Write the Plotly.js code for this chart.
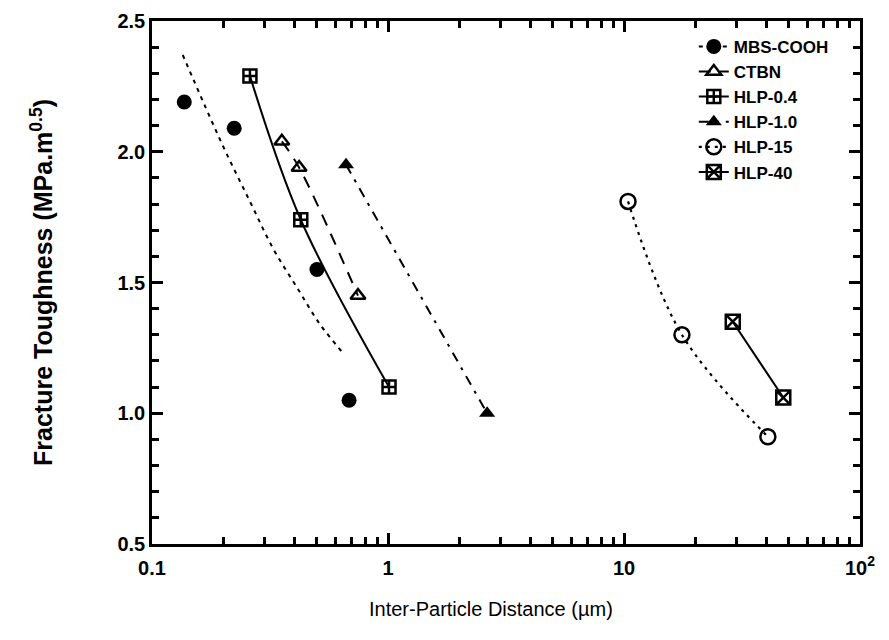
<!DOCTYPE html>
<html>
<head>
<meta charset="utf-8">
<script src="https://cdn.plot.ly/plotly-3.0.1.min.js"></script>
<style>html,body{margin:0;padding:0;background:#fff;}#chart{width:889px;height:640px;}</style>
</head>
<body>
<div id="chart"></div>
<script>
// Data
const mbsX = [0.137, 0.223, 0.50, 0.684];
const mbsY = [2.19, 2.09, 1.55, 1.05];
const mbsFitX = [0.135, 0.198, 0.260, 0.326, 0.412, 0.515, 0.645];
const mbsFitY = [2.37, 2.03, 1.81, 1.63, 1.48, 1.34, 1.23];
const ctbnX = [0.355, 0.420, 0.746];
const ctbnY = [2.04, 1.94, 1.45];
const hlp04X = [0.260, 0.427, 1.01];
const hlp04Y = [2.29, 1.74, 1.10];
const hlp10X = [0.664, 2.63];
const hlp10Y = [1.95, 1.00];
const hlp15X = [10.4, 17.6, 40.7];
const hlp15Y = [1.81, 1.30, 0.91];
const hlp40X = [28.9, 47.3];
const hlp40Y = [1.35, 1.06];
const names = ["MBS-COOH", "CTBN", "HLP-0.4", "HLP-1.0", "HLP-15", "HLP-40"];
const xTickVals = [0.1, 1, 10, 100];
const xTickText = ["0.1", "1", "10", "10<sup>2</sup>"];
const yTickVals = [0.5, 1.0, 1.5, 2.0, 2.5];
const xTitle = "Inter-Particle Distance (µm)";
const yTitle = "Fracture Toughness (MPa.m<sup>0.5</sup>)";

const K = "#000";
const FONT = "Arial, 'Liberation Sans', sans-serif";
const traces = [
  {x: [null], y: [null], mode: "lines+markers", name: names[0],
   line: {color: K, width: 2, dash: "4px,4px"}, marker: {symbol: "circle", size: 15, color: K}},
  {x: mbsFitX, y: mbsFitY, mode: "lines", showlegend: false,
   line: {color: K, width: 2, dash: "4px,5px", shape: "spline"}},
  {x: mbsX, y: mbsY, mode: "markers", showlegend: false,
   marker: {symbol: "circle", size: 15, color: K}},
  {x: ctbnX, y: ctbnY, mode: "lines+markers", name: names[1],
   line: {color: K, width: 2, dash: "12px,9px", shape: "spline"},
   marker: {symbol: "triangle-up-open", size: 13, color: K, line: {width: 2.5, color: K}}},
  {x: hlp04X, y: hlp04Y, mode: "lines+markers", name: names[2],
   line: {color: K, width: 2, shape: "spline"},
   marker: {symbol: "square-cross-open", size: 13, color: K, line: {width: 2.5, color: K}}},
  {x: hlp10X, y: hlp10Y, mode: "lines+markers", name: names[3],
   line: {color: K, width: 2, dash: "10px,7px,3px,7px"},
   marker: {symbol: "triangle-up", size: 14, color: K}},
  {x: hlp15X, y: hlp15Y, mode: "lines+markers", name: names[4],
   line: {color: K, width: 2.2, dash: "3px,5px", shape: "spline"},
   marker: {symbol: "circle-open", size: 15, color: K, line: {width: 2.5, color: K}}},
  {x: hlp40X, y: hlp40Y, mode: "lines+markers", name: names[5],
   line: {color: K, width: 2},
   marker: {symbol: "square-x-open", size: 14, color: K, line: {width: 2.5, color: K}}}
];

// minor tick positions on the log axis (2..9 in each decade)
const xMinor = [];
[0.1, 1, 10].forEach(d => { for (let k = 2; k <= 9; k++) xMinor.push(+(d * k).toPrecision(3)); });

const layout = {
  width: 889, height: 640,
  margin: {l: 152, r: 29, t: 21, b: 96},
  paper_bgcolor: "#fff", plot_bgcolor: "rgba(0,0,0,0)",
  font: {family: FONT, color: K},
  showlegend: true,
  legend: {x: 0.963, xanchor: "right", y: 0.985, yanchor: "top",
    bgcolor: "rgba(0,0,0,0)", borderwidth: 0, tracegroupgap: 0,
    font: {size: 17, family: FONT, weight: "bold", color: K}},
  xaxis: {
    type: "log", range: [-1, 2],
    tickmode: "array", tickvals: xTickVals, ticktext: xTickText,
    ticks: "inside", ticklen: 11, tickwidth: 2.5, tickcolor: K,
    showline: true, linewidth: 2.5, linecolor: K, mirror: "allticks",
    showgrid: false, zeroline: false, ticklabelstandoff: 4,
    tickfont: {size: 20, weight: "bold", color: K},
    minor: {tickmode: "array", tickvals: xMinor, ticks: "inside", ticklen: 7, tickwidth: 2.5, tickcolor: K, showgrid: false}
  },
  yaxis: {
    range: [0.5, 2.5],
    tickmode: "array", tickvals: yTickVals, tickformat: ".1f",
    ticks: "inside", ticklen: 11, tickwidth: 2.5, tickcolor: K,
    showline: true, linewidth: 2.5, linecolor: K, mirror: "allticks",
    showgrid: false, zeroline: false, ticklabelstandoff: 0,
    tickfont: {size: 20, weight: "bold", color: K},
    minor: {tickmode: "linear", tick0: 0.5, dtick: 0.1, ticks: "inside", ticklen: 7, tickwidth: 2.5, tickcolor: K, showgrid: false},
    title: {text: yTitle, font: {size: 25, weight: "bold", color: K}, standoff: 58}
  },
  annotations: [
    {text: xTitle, xref: "paper", yref: "paper", x: 0.479, y: -0.125, xanchor: "center", yanchor: "middle",
     showarrow: false, font: {size: 20, color: K, family: FONT}}
  ]
};

Plotly.newPlot("chart", traces, layout, {displayModeBar: false});
</script>
</body>
</html>
